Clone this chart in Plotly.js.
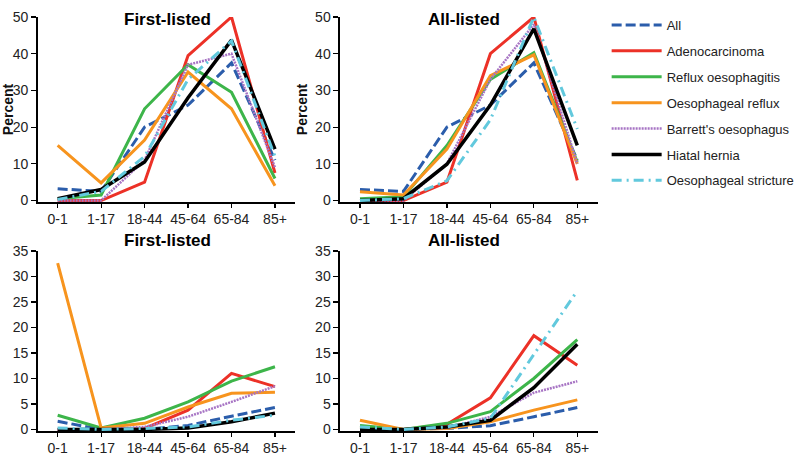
<!DOCTYPE html>
<html>
<head>
<meta charset="utf-8">
<script src="https://cdn.plot.ly/plotly-3.0.1.min.js"></script>
<style>
  body { margin: 0; background: #fff; }
  #plot { width: 800px; height: 458px; }
</style>
</head>
<body>
<div id="plot"></div>
<script>
// age groups on the x axis
let ageGroups = ["0-1", "1-17", "18-44", "45-64", "65-84", "85+"];

let seriesNames = ["All", "Adenocarcinoma", "Reflux oesophagitis", "Oesophageal reflux",
    "Barrett's oesophagus", "Hiatal hernia", "Oesophageal stricture"];

// top row: share of each diagnosis by age (percent)
let firstTop = [
    [3.2, 2.5, 20, 26, 37.5, 11],      // All
    [0, 0, 5, 39.5, 50, 7.5],          // Adenocarcinoma
    [0.5, 1.5, 25, 37, 29.5, 6],       // Reflux oesophagitis
    [15, 4.8, 16.5, 35, 25, 4],        // Oesophageal reflux
    [0, 0, 11, 37, 40, 9],             // Barrett's
    [0.5, 3, 10.5, 28, 43.7, 14],      // Hiatal hernia
    [0.3, 2.5, 12, 33, 43.5, 12]       // Stricture
];
let allTop = [
    [3, 2.5, 20, 26, 37.5, 11],
    [0, 0, 5, 40, 50, 5.5],
    [0.5, 1, 15, 33, 40.3, 10.5],
    [2.4, 1.5, 14, 34, 39.7, 10],
    [0, 0, 10, 33, 48, 10],
    [0, 0.5, 9.9, 26, 46.8, 15],
    [0, 0.5, 5.4, 22, 50, 19.5]
];

// bottom row: rate by age
let firstBottom = [
    [1.6, 0, 0, 0.8, 2.6, 4.3],
    [0, 0, 0.2, 3.8, 11, 8.4],
    [2.8, 0.3, 2.2, 5.4, 9.5, 12.3],
    [32.6, 0.3, 1.2, 4.4, 7.1, 7.3],
    [0, 0, 0.5, 2.5, 5.4, 8.5],
    [0, 0, 0, 0.3, 1.5, 3.2],
    [0.3, 0, 0.2, 0.5, 1.8, 2.8]
];
let allBottom = [
    [0, 0, 0.2, 0.75, 2.5, 4.3],
    [0.5, 0, 1, 6.2, 18.4, 12.6],
    [0.8, 0, 1.2, 3.5, 10, 17.6],
    [1.8, 0, 0.2, 1.5, 3.8, 5.8],
    [0, 0, 0.3, 2.5, 7.2, 9.45],
    [0, 0, 0.5, 1.8, 8.2, 16.7],
    [0.5, 0, 0.5, 2.2, 14.7, 27.2]
];

let lineStyles = [
    {color: "#2b5dab", width: 3, dash: "10px,4px"},
    {color: "#ec3127", width: 3},
    {color: "#3db54a", width: 3},
    {color: "#f7941e", width: 3},
    {color: "#a774c4", width: 2.5, dash: "2px,1px"},
    {color: "#000000", width: 3.5},
    {color: "#62c9dd", width: 3, dash: "10px,5px,2px,5px"}
];

let traces = [];
function addPanel(values, xa, ya, showLegend) {
    values.forEach((vals, i) => {
        traces.push({
            x: ageGroups,
            y: vals,
            xaxis: xa,
            yaxis: ya,
            type: "scatter",
            mode: "lines",
            name: seriesNames[i],
            legendgroup: "g" + i,
            showlegend: showLegend,
            line: lineStyles[i],
            hoverinfo: "skip"
        });
    });
}
addPanel(firstTop, "x", "y", true);
addPanel(allTop, "x2", "y2", false);
addPanel(firstBottom, "x3", "y3", false);
addPanel(allBottom, "x4", "y4", false);

let font = {family: "Liberation Sans, Arial, sans-serif", size: 14, color: "#222"};

function xAxis(domain, anchor) {
    return {
        domain: domain, anchor: anchor, type: "category",
        range: [-0.46, 5.47], showgrid: false, zeroline: false,
        showline: true, linecolor: "#000", linewidth: 1.5,
        ticks: "outside", ticklen: 4, tickcolor: "#000", tickwidth: 1.2,
        tickfont: font, fixedrange: true
    };
}
function yAxis(domain, anchor, top, low, withTitle) {
    let ax = {
        domain: domain, anchor: anchor, range: [low, top], dtick: 5,
        showgrid: false, zeroline: false,
        showline: true, linecolor: "#000", linewidth: 1.5,
        ticks: "outside", ticklen: 5, tickcolor: "#000", tickwidth: 1.2,
        tickfont: font, fixedrange: true
    };
    if (top === 50) ax.dtick = 10;
    if (withTitle) {
        ax.title = {text: "<b>Percent</b>", font: {family: font.family, size: 14, color: "#111"}, standoff: 4};
    }
    return ax;
}

let leftX = [38 / 800, 298 / 800];
let rightX = [343 / 800, 603 / 800];
let topY = [(458 - 202) / 458, (458 - 17) / 458];
let botY = [(458 - 431) / 458, (458 - 251) / 458];

let titleFont = {family: font.family, size: 17, color: "#000"};

let layout = {
    width: 800,
    height: 458,
    margin: {l: 0, r: 0, t: 0, b: 0},
    paper_bgcolor: "#fff",
    plot_bgcolor: "#fff",
    font: font,
    xaxis: xAxis(leftX, "y"),
    yaxis: yAxis(topY, "x", 50, -0.4, true),
    xaxis2: xAxis(rightX, "y2"),
    yaxis2: yAxis(topY, "x2", 50, -0.4, true),
    xaxis3: xAxis(leftX, "y3"),
    yaxis3: yAxis(botY, "x3", 35, -0.3, false),
    xaxis4: xAxis(rightX, "y4"),
    yaxis4: yAxis(botY, "x4", 35, -0.3, false),
    annotations: [
        {text: "<b>First-listed</b>", x: 169 / 800, y: 1 - 8 / 458, xanchor: "center", xref: "paper", yref: "paper", showarrow: false, font: titleFont},
        {text: "<b>All-listed</b>", x: 468 / 800, y: 1 - 8 / 458, xanchor: "center", xref: "paper", yref: "paper", showarrow: false, font: titleFont},
        {text: "<b>First-listed</b>", x: 169 / 800, y: 1 - 241 / 458, xanchor: "center", xref: "paper", yref: "paper", showarrow: false, font: titleFont},
        {text: "<b>All-listed</b>", x: 468 / 800, y: 1 - 241 / 458, xanchor: "center", xref: "paper", yref: "paper", showarrow: false, font: titleFont}
    ],
    legend: {
        x: 612 / 800, y: 1 - 10 / 458, xanchor: "left", yanchor: "top",
        font: {family: font.family, size: 13, color: "#222"},
        tracegroupgap: 6, itemwidth: 50, bgcolor: "rgba(0,0,0,0)"
    },
    showlegend: true
};

Plotly.newPlot("plot", traces, layout, {displayModeBar: false, staticPlot: true});
</script>
</body>
</html>
